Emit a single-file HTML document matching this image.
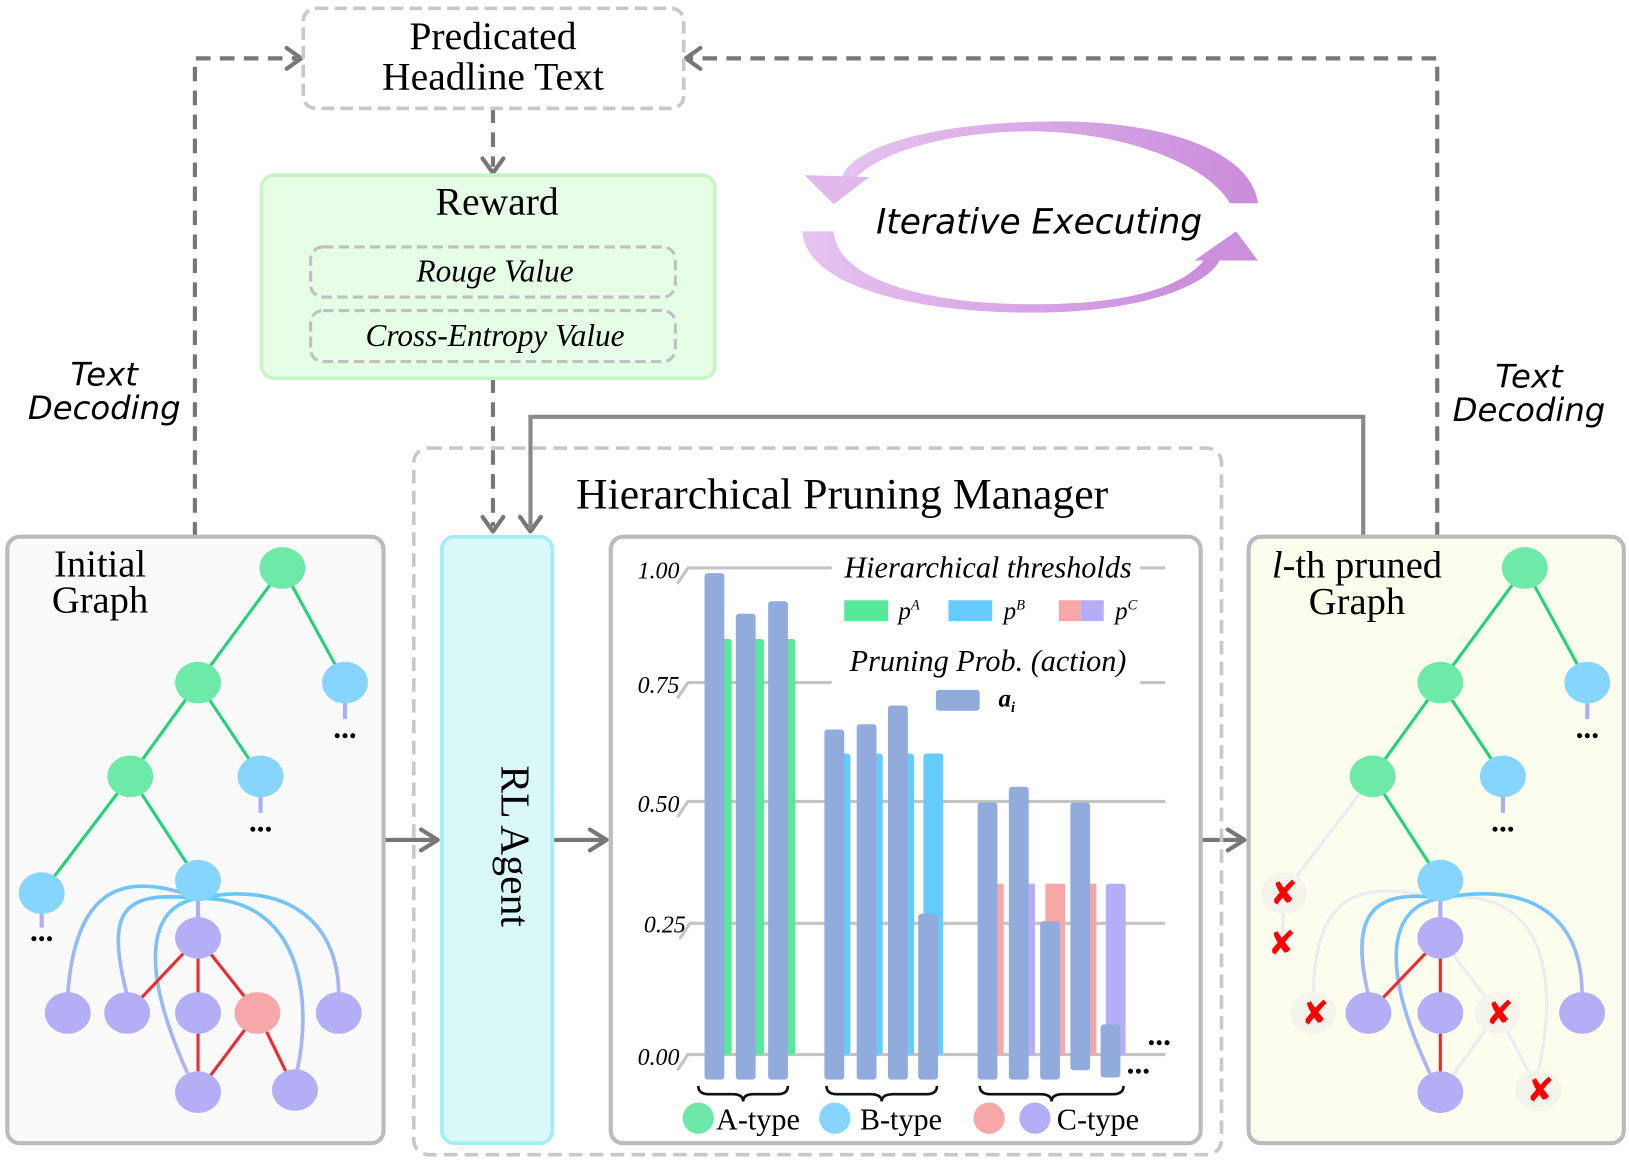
<!DOCTYPE html>
<html><head><meta charset="utf-8"><style>
html,body{margin:0;padding:0;background:#fff;}
svg{display:block;}
.serif{font-family:"Liberation Serif",serif;}
.comic{font-family:"DejaVu Sans",sans-serif;font-style:oblique;}
</style></head><body>
<svg width="1629" height="1163" viewBox="0 0 1563 1116" preserveAspectRatio="none" xmlns="http://www.w3.org/2000/svg">
<defs>
<linearGradient id="gu" x1="0" x2="1" y1="0" y2="0"><stop offset="0" stop-color="#e6c3f0"/><stop offset="1" stop-color="#c98bdb"/></linearGradient>
<linearGradient id="bc" x1="0" x2="0" y1="0" y2="1"><stop offset="0" stop-color="#6cc6fb"/><stop offset="1" stop-color="#b4b0f5"/></linearGradient>
</defs>

<g fill="none" stroke="#777" stroke-width="4" stroke-dasharray="14,9">
<path d="M187,515 V56 H285"/>
<path d="M1379,515 V56 H662"/>
<path d="M473,104 V160"/>
<path d="M473,363 V505"/>
</g>
<g fill="none" stroke="#777" stroke-width="4" stroke-linecap="round" stroke-linejoin="round">
<polyline points="275,46 289,56 275,66"/>
<polyline points="672,46 658,56 672,66"/>
<polyline points="463,152 473,166 483,152"/>
<polyline points="463,496 473,510 483,496"/>
<polyline points="499,496 509,510 519,496"/>
<polyline points="404,796 420,806 404,816"/>
<polyline points="566,796 582,806 566,816"/>
<polyline points="1178,796 1194,806 1178,816"/>
</g>
<path d="M1308,515 V400 H509 V508" fill="none" stroke="#888" stroke-width="4"/>
<g stroke="#777" stroke-width="4">
<line x1="368" y1="806" x2="418" y2="806"/>
<line x1="530" y1="806" x2="580" y2="806"/>
<line x1="1152" y1="806" x2="1192" y2="806"/>
</g>

<rect x="291" y="8" width="365" height="96" rx="12" fill="#fff" stroke="#c8c8c8" stroke-width="3.5" stroke-dasharray="12,6"/>
<text x="473" y="47" class="serif" font-size="38" text-anchor="middle">Predicated</text>
<text x="473" y="86" class="serif" font-size="38" text-anchor="middle">Headline Text</text>

<rect x="251" y="168" width="435" height="195" rx="12" fill="#e6fde6" stroke="#c6f6c6" stroke-width="3.5"/>
<text x="477" y="206" class="serif" font-size="38" text-anchor="middle">Reward</text>
<rect x="298" y="237" width="350" height="48" rx="12" fill="none" stroke="#c0c0c0" stroke-width="3" stroke-dasharray="10,5"/>
<rect x="298" y="298" width="350" height="49" rx="12" fill="none" stroke="#c0c0c0" stroke-width="3" stroke-dasharray="10,5"/>
<text x="475" y="270" class="serif" font-size="30" font-style="italic" text-anchor="middle">Rouge Value</text>
<text x="475" y="332" class="serif" font-size="30" font-style="italic" text-anchor="middle">Cross-Entropy Value</text>

<path d="M1207,195 C1200,140 1100,112 990,117 C880,120 815,145 808,170 L822,170 C850,142 920,126 990,126 C1085,127 1160,160 1180,195 Z" fill="url(#gu)"/>
<polygon points="772,168 834,170 800,196" fill="#e0b8ec"/>
<path d="M770,222 C772,272 870,300 990,300 C1100,300 1160,272 1170,250 L1155,250 C1130,280 1070,292 990,292 C880,292 802,265 800,222 Z" fill="url(#gu)"/>
<polygon points="1146,250 1207,250 1186,222" fill="#cc8fdc"/>
<text x="997" y="224" class="comic" font-size="33" text-anchor="middle">Iterative Executing</text>

<text x="100" y="370" class="comic" font-size="31" text-anchor="middle">Text</text>
<text x="100" y="402" class="comic" font-size="31" text-anchor="middle">Decoding</text>
<text x="1467" y="372" class="comic" font-size="31" text-anchor="middle">Text</text>
<text x="1467" y="404" class="comic" font-size="31" text-anchor="middle">Decoding</text>

<rect x="397" y="430" width="775" height="678" rx="14" fill="none" stroke="#c8c8c8" stroke-width="3.5" stroke-dasharray="13,7"/>
<text x="808" y="488" class="serif" font-size="42" text-anchor="middle">Hierarchical Pruning Manager</text>

<rect x="424" y="515" width="106" height="582" rx="12" fill="#daf8f8" stroke="#a4eef3" stroke-width="3.5"/>
<text x="477" y="812" class="serif" font-size="40" text-anchor="middle" transform="rotate(90 477 812)" dy="-4">RL Agent</text>

<rect x="586" y="515" width="566" height="582" rx="12" fill="#fff" stroke="#bbb" stroke-width="4"/>
<g stroke="#c4c4c4" stroke-width="3" fill="none">
<path d="M650,560 L660,545 H1118"/>
<path d="M650,670 L660,655 H1118"/>
<path d="M650,784 L660,769 H1118"/>
<path d="M652,901 L662,886 H1118"/>
<path d="M650,1027 L660,1012 H1118"/>
</g>
<rect x="798" y="530" width="296" height="30" fill="#fff"/>
<rect x="798" y="620" width="296" height="40" fill="#fff"/>
<g class="serif" font-size="23" font-style="italic" text-anchor="end">
<text x="652" y="555">1.00</text><text x="652" y="665">0.75</text><text x="652" y="779">0.50</text><text x="658" y="895">0.25</text><text x="652" y="1022">0.00</text>
</g>
<g fill="#58e89a">
<rect x="690" y="613" width="12" height="399" rx="3"/><rect x="721" y="613" width="12" height="399" rx="3"/><rect x="751" y="613" width="12" height="399" rx="3"/>
</g>
<g fill="#66cbff">
<rect x="806" y="723" width="10" height="289" rx="3"/><rect x="837" y="723" width="10" height="289" rx="3"/><rect x="867" y="723" width="10" height="289" rx="3"/><rect x="886" y="723" width="19" height="289" rx="3"/>
</g>
<g>
<rect x="953" y="848" width="10" height="164" fill="#f7a7a7"/>
<rect x="983" y="848" width="10" height="164" fill="#b4aef6"/>
<rect x="1003" y="848" width="19" height="164" fill="#f7a7a7"/>
<rect x="1042" y="848" width="10" height="164" fill="#f7a7a7"/>
<rect x="1061" y="848" width="19" height="164" fill="#b4aef6" rx="3"/>
</g>
<g fill="#91acdc">
<rect x="676" y="550" width="19" height="486" rx="3"/><rect x="706" y="589" width="19" height="447" rx="3"/><rect x="737" y="577" width="19" height="459" rx="3"/>
<rect x="791" y="700" width="19" height="336" rx="3"/><rect x="822" y="695" width="19" height="341" rx="3"/><rect x="852" y="677" width="19" height="359" rx="3"/><rect x="881" y="877" width="19" height="159" rx="3"/>
<rect x="938" y="770" width="19" height="266" rx="3"/><rect x="968" y="755" width="19" height="281" rx="3"/><rect x="998" y="884" width="19" height="152" rx="3"/><rect x="1027" y="770" width="19" height="257" rx="3"/><rect x="1056" y="983" width="19" height="51" rx="3"/>
</g>
<g class="serif" font-size="30" font-weight="bold"><text x="1101" y="1003">...</text><text x="1081" y="1030">...</text></g>
<text x="948" y="554" class="serif" font-size="29" font-style="italic" text-anchor="middle">Hierarchical thresholds</text>
<rect x="810" y="576" width="42" height="20" fill="#58e89a"/>
<rect x="910" y="576" width="42" height="20" fill="#66cbff"/>
<rect x="1016" y="576" width="21" height="20" fill="#f7a7a7"/><rect x="1037" y="576" width="22" height="20" fill="#b4aef6"/>
<g class="serif" font-size="24" font-style="italic">
<text x="862" y="594">p<tspan font-size="14" dy="-9">A</tspan></text>
<text x="963" y="594">p<tspan font-size="14" dy="-9">B</tspan></text>
<text x="1070" y="594">p<tspan font-size="14" dy="-9">C</tspan></text>
</g>
<text x="948" y="644" class="serif" font-size="29" font-style="italic" text-anchor="middle">Pruning Prob. (action)</text>
<rect x="898" y="662" width="42" height="20" rx="3" fill="#91acdc"/>
<text x="958" y="678" class="serif" font-size="24" font-style="italic" font-weight="bold">a<tspan font-size="14" dy="5">i</tspan></text>
<g fill="none" stroke="#111" stroke-width="2.5">
<path d="M670,1042 q0,8 10,8 h23 q10,0 10,7 q0,-7 10,-7 h23 q10,0 10,-8"/>
<path d="M793,1042 q0,8 10,8 h32 q11,0 11,7 q0,-7 11,-7 h32 q10,0 10,-8"/>
<path d="M940,1042 q0,8 10,8 h48 q11,0 11,7 q0,-7 11,-7 h48 q10,0 10,-8"/>
</g>
<circle cx="670" cy="1073" r="15" fill="#6ee8a8"/>
<circle cx="801" cy="1073" r="15" fill="#86d5fe"/>
<circle cx="949" cy="1073" r="15" fill="#f7a7a7"/>
<circle cx="993" cy="1073" r="15" fill="#b4aef6"/>
<g class="serif" font-size="29"><text x="687" y="1084">A-type</text><text x="825" y="1084">B-type</text><text x="1014" y="1084">C-type</text></g>

<rect x="7" y="515" width="361" height="582" rx="12" fill="#fafafa" stroke="#bbb" stroke-width="4"/>
<text x="96" y="553" class="serif" font-size="37" text-anchor="middle">Initial</text>
<text x="96" y="588" class="serif" font-size="37" text-anchor="middle">Graph</text>
<g stroke="#22d37a" stroke-width="3">
<line x1="271" y1="545" x2="190" y2="655"/><line x1="271" y1="545" x2="331" y2="655"/>
<line x1="190" y1="655" x2="125" y2="745"/><line x1="190" y1="655" x2="250" y2="745"/>
<line x1="125" y1="745" x2="40" y2="857"/><line x1="125" y1="745" x2="190" y2="845"/>
</g>
<g stroke="#aab0f5" stroke-width="4">
<line x1="331" y1="665" x2="331" y2="690"/><line x1="250" y1="755" x2="250" y2="780"/><line x1="40" y1="867" x2="40" y2="890"/>
<line x1="190" y1="845" x2="190" y2="890"/>
</g>
<g class="serif" font-size="30" font-weight="bold" text-anchor="middle"><text x="331" y="708">...</text><text x="250" y="798">...</text><text x="40" y="903">...</text></g>
<g fill="none" stroke="url(#bc)" stroke-width="3.5">
<path d="M190,862 C120,835 72,850 65,955"/>
<path d="M190,862 C120,855 100,870 122,955"/>
<path d="M190,862 C140,870 135,930 180,1030"/>
<path d="M190,862 C270,845 325,880 325,955"/>
<path d="M190,862 C290,860 300,960 285,1028"/>
</g>
<g stroke="#ee2b33" stroke-width="3">
<line x1="190" y1="900" x2="122" y2="972"/><line x1="190" y1="900" x2="190" y2="1048"/><line x1="190" y1="900" x2="247" y2="972"/>
<line x1="247" y1="972" x2="190" y2="1048"/><line x1="247" y1="972" x2="283" y2="1046"/>
</g>
<g fill="#6eeaa8"><ellipse cx="271" cy="545" rx="22" ry="20"/><ellipse cx="190" cy="655" rx="22" ry="20"/><ellipse cx="125" cy="745" rx="22" ry="20"/></g>
<g fill="#86d5fe"><ellipse cx="331" cy="655" rx="22" ry="20"/><ellipse cx="250" cy="745" rx="22" ry="20"/><ellipse cx="40" cy="857" rx="22" ry="20"/><ellipse cx="190" cy="845" rx="22" ry="20"/></g>
<g fill="#b4aef6"><ellipse cx="190" cy="900" rx="22" ry="20"/><ellipse cx="65" cy="972" rx="22" ry="20"/><ellipse cx="122" cy="972" rx="22" ry="20"/><ellipse cx="190" cy="972" rx="22" ry="20"/><ellipse cx="325" cy="972" rx="22" ry="20"/><ellipse cx="190" cy="1048" rx="22" ry="20"/><ellipse cx="283" cy="1046" rx="22" ry="20"/></g>
<ellipse cx="247" cy="972" rx="22" ry="20" fill="#f7a7a7"/>

<rect x="1198" y="515" width="360" height="582" rx="12" fill="#fdfdee" stroke="#bbb" stroke-width="4"/>
<text x="1302" y="554" class="serif" font-size="37" text-anchor="middle"><tspan font-style="italic">l</tspan>-th pruned</text>
<text x="1302" y="589" class="serif" font-size="37" text-anchor="middle">Graph</text>
<g stroke="#22d37a" stroke-width="3">
<line x1="1463" y1="545" x2="1382" y2="655"/><line x1="1463" y1="545" x2="1523" y2="655"/>
<line x1="1382" y1="655" x2="1317" y2="745"/><line x1="1382" y1="655" x2="1442" y2="745"/>
<line x1="1317" y1="745" x2="1382" y2="845"/>
</g>
<g stroke="#ececf0" stroke-width="3" fill="none">
<line x1="1317" y1="745" x2="1232" y2="857"/><line x1="1232" y1="857" x2="1230" y2="905"/>
<path d="M1382,862 C1290,840 1262,870 1260,955"/>
<path d="M1382,862 C1470,850 1500,920 1476,1028"/>
<line x1="1382" y1="900" x2="1437" y2="972"/><line x1="1437" y1="972" x2="1382" y2="1048"/><line x1="1437" y1="972" x2="1476" y2="1046"/>
</g>
<g stroke="#aab0f5" stroke-width="4">
<line x1="1523" y1="665" x2="1523" y2="690"/><line x1="1442" y1="755" x2="1442" y2="780"/><line x1="1382" y1="845" x2="1382" y2="890"/>
</g>
<g class="serif" font-size="30" font-weight="bold" text-anchor="middle"><text x="1523" y="708">...</text><text x="1442" y="798">...</text></g>
<g fill="none" stroke="url(#bc)" stroke-width="3.5">
<path d="M1382,862 C1315,852 1295,880 1313,955"/>
<path d="M1382,862 C1330,870 1325,930 1372,1030"/>
<path d="M1382,862 C1470,845 1518,880 1518,955"/>
</g>
<g stroke="#ee2b33" stroke-width="3">
<line x1="1382" y1="900" x2="1313" y2="972"/><line x1="1382" y1="900" x2="1382" y2="1048"/>
</g>
<g fill="#6eeaa8"><ellipse cx="1463" cy="545" rx="22" ry="20"/><ellipse cx="1382" cy="655" rx="22" ry="20"/><ellipse cx="1317" cy="745" rx="22" ry="20"/></g>
<g fill="#86d5fe"><ellipse cx="1523" cy="655" rx="22" ry="20"/><ellipse cx="1442" cy="745" rx="22" ry="20"/><ellipse cx="1382" cy="845" rx="22" ry="20"/></g>
<g fill="#b4aef6"><ellipse cx="1382" cy="900" rx="22" ry="20"/><ellipse cx="1313" cy="972" rx="22" ry="20"/><ellipse cx="1382" cy="972" rx="22" ry="20"/><ellipse cx="1518" cy="972" rx="22" ry="20"/><ellipse cx="1382" cy="1048" rx="22" ry="20"/></g>
<g fill="#f4f4ec"><ellipse cx="1232" cy="857" rx="22" ry="20"/><ellipse cx="1260" cy="972" rx="22" ry="20"/><ellipse cx="1437" cy="972" rx="22" ry="20"/><ellipse cx="1476" cy="1046" rx="22" ry="20"/></g>
<g fill="#ff0000" font-family="DejaVu Sans,sans-serif" font-size="32" font-weight="bold" text-anchor="middle">
<text x="1232" y="868">✘</text><text x="1230" y="916">✘</text><text x="1262" y="983">✘</text><text x="1439" y="983">✘</text><text x="1478" y="1057">✘</text>
</g>
</svg>
</body></html>
